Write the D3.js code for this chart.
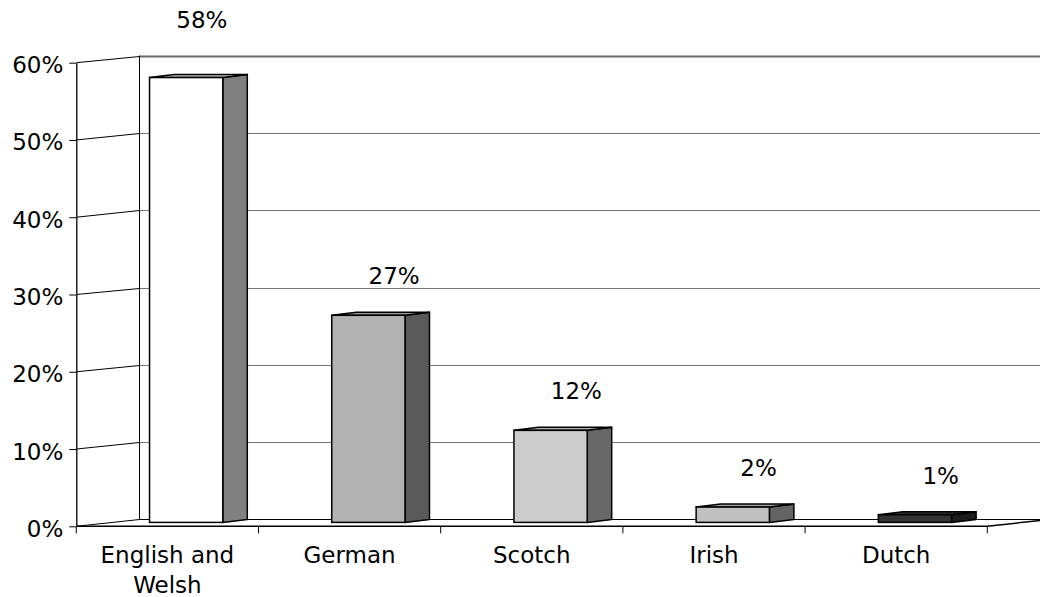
<!DOCTYPE html>
<html>
<head>
<meta charset="utf-8">
<script src="https://cdn.jsdelivr.net/npm/d3@7"></script>
<style>
  html, body { margin: 0; padding: 0; background: #ffffff; }
  svg { display: block; }
  text { font-family: "DejaVu Sans", Verdana, sans-serif; font-size: 23px; fill: #000; }
</style>
</head>
<body>
<svg id="chart" width="1040" height="597"></svg>
<script>
// Share of population by origin
const categories = ["English and Welsh", "German", "Scotch", "Irish", "Dutch"];
const shares = [0.58, 0.27, 0.12, 0.02, 0.01];
const yTicks = [0, 0.1, 0.2, 0.3, 0.4, 0.5, 0.6];

// Face shades per column: front, right side, top
const frontFill = ["#ffffff", "#b2b2b2", "#cccccc", "#c0c0c0", "#333333"];
const sideFill  = ["#808080", "#5a5a5a", "#686868", "#646464", "#1c1c1c"];
const topFill   = ["#c4c4c4", "#9a9a9a", "#b0b0b0", "#a4a4a4", "#2a2a2a"];

const W = 1040, H = 597;
const svg = d3.select("#chart");

// Plot box: front plane of the floor and the left wall
const x0 = 76.3, x1 = 987.3;
const wall = { dx: 63, dy: -7 };     // offset from the front plane to the back wall
const bar = { dx: 24.5, dy: -3 };    // depth of each column

const x = d3.scaleBand().domain(categories).range([x0, x1]).padding(0);
const y = d3.scaleLinear().domain([0, 0.6]).range([526.3, 62.7]);      // front axis
const yBar = d3.scaleLinear().domain([0, 0.6]).range([522.4, 62.2]);   // column front faces
const pct = d3.format(".0%");
const bw = x.bandwidth();
const crisp = v => Math.round(v) + 0.5;

const grid = svg.append("g");

// Back wall gridlines
grid.selectAll("line.h").data(yTicks).join("line")
  .attr("x1", x0 + wall.dx).attr("x2", x1 + wall.dx)
  .attr("y1", d => crisp(y(d) + wall.dy)).attr("y2", d => crisp(y(d) + wall.dy))
  .attr("stroke", d => d === 0 ? "#000" : d === 0.6 ? "#6a6a6a" : "#767676")
  .attr("stroke-width", d => d === 0.6 ? 2 : 1);

// Left wall: diagonals from the axis back to the wall
grid.selectAll("line.d").data(yTicks).join("line")
  .attr("x1", x0).attr("y1", d => y(d))
  .attr("x2", crisp(x0 + wall.dx)).attr("y2", d => crisp(y(d) + wall.dy))
  .attr("stroke", "#000").attr("stroke-width", 1);

// Back corner of the walls
grid.append("line")
  .attr("x1", crisp(x0 + wall.dx)).attr("x2", crisp(x0 + wall.dx))
  .attr("y1", y(0.6) + wall.dy).attr("y2", y(0) + wall.dy)
  .attr("stroke", "#000").attr("stroke-width", 1);

// Front edge of the floor
grid.append("path")
  .attr("d", `M${x0},${y(0)}H${x1}L${x1 + wall.dx},${y(0) + wall.dy}`)
  .attr("fill", "none").attr("stroke", "#000").attr("stroke-width", 1.5);

// Y axis
const yAxis = svg.append("g")
  .attr("transform", `translate(${x0},0)`)
  .call(d3.axisLeft(y).tickValues(yTicks).tickFormat(pct).tickSize(7).tickSizeOuter(0).tickPadding(6));
yAxis.select(".domain").attr("stroke", "#000").attr("stroke-width", 1.3);
yAxis.selectAll(".tick line").attr("stroke", "#000");
yAxis.selectAll(".tick text")
  .attr("dy", null).attr("y", 10);
yAxis.attr("font-family", null).attr("font-size", null);

// X axis: tick marks at category boundaries, names centred in each band
const edges = categories.map(c => x(c)).concat([x1]);
svg.append("g").selectAll("line").data(edges).join("line")
  .attr("x1", d => d).attr("x2", d => d)
  .attr("y1", y(0)).attr("y2", y(0) + 7)
  .attr("stroke", "#000").attr("stroke-width", 1);

const xLabels = svg.append("g").selectAll("text").data(categories).join("text")
  .attr("text-anchor", "middle")
  .attr("x", d => x(d) + bw / 2)
  .attr("y", 562.5);

// Wrap each name to the band width
xLabels.each(function (d) {
  const el = d3.select(this);
  const words = d.split(" ");
  const cx = x(d) + bw / 2;
  let line = [];
  let tspan = el.append("tspan").attr("x", cx).attr("dy", 0);
  words.forEach(w => {
    line.push(w);
    tspan.text(line.join(" "));
    if (tspan.node().getComputedTextLength() > bw - 10 && line.length > 1) {
      line.pop();
      tspan.text(line.join(" "));
      line = [w];
      tspan = el.append("tspan").attr("x", cx).attr("dy", 30).text(w);
    }
  });
});

// Columns
const cols = svg.append("g").selectAll("g").data(shares).join("g");

cols.each(function (v, i) {
  const g = d3.select(this);
  const xl = x(categories[i]) + 0.402 * bw;
  const w = 0.402 * bw;
  const yt = yBar(v), yb = yBar(0);
  const xr = xl + w;

  g.append("path")
    .attr("d", `M${xr},${yt}L${xr + bar.dx},${yt + bar.dy}L${xr + bar.dx},${yb + bar.dy}L${xr},${yb}Z`)
    .attr("fill", sideFill[i]).attr("stroke", "#000").attr("stroke-width", 1.5).attr("stroke-linejoin", "round");
  g.append("path")
    .attr("d", `M${xl},${yt}L${xl + bar.dx},${yt + bar.dy}L${xr + bar.dx},${yt + bar.dy}L${xr},${yt}Z`)
    .attr("fill", topFill[i]).attr("stroke", "#000").attr("stroke-width", 1.5).attr("stroke-linejoin", "round");
  g.append("rect")
    .attr("x", xl).attr("y", yt).attr("width", w).attr("height", yb - yt)
    .attr("fill", frontFill[i]).attr("stroke", "#000").attr("stroke-width", 1.5);

  // Value label above the column; if it would reach the ceiling, lift it above the frame
  const ceiling = y(0.6) + wall.dy;
  const mid = xl + (w + bar.dx) / 2;
  let lx = mid + 13.5, ly = yt - 31;
  if (ly - 17 < ceiling) { lx = mid + 3.5; ly = ceiling - 27.7; }
  g.append("text")
    .attr("text-anchor", "middle")
    .attr("x", lx).attr("y", ly)
    .text(pct(v));
});
</script>
</body>
</html>
